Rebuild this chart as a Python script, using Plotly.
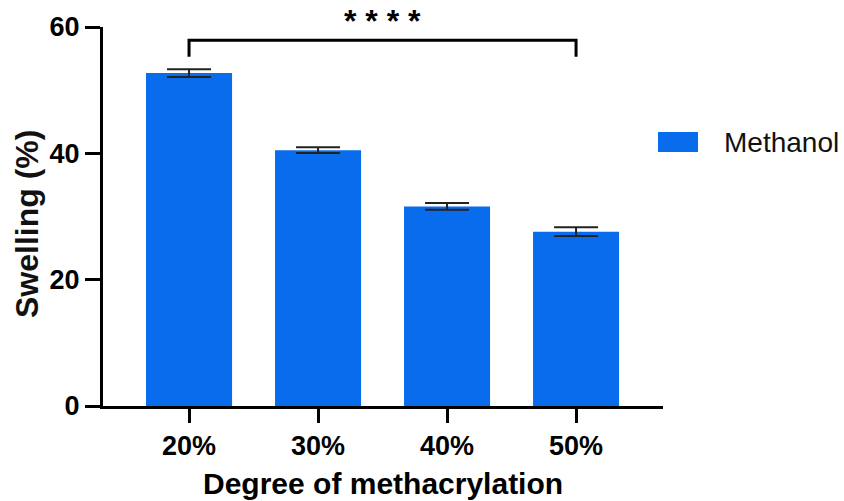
import plotly.graph_objects as go

categories = ["20%", "30%", "40%", "50%"]
swelling = [52.7, 40.5, 31.6, 27.6]
errors = [0.6, 0.45, 0.55, 0.7]
series_name = "Methanol"
y_ticks = [0, 20, 40, 60]

W, H = 844, 501
L, R, T, B = 103, 181, 27, 95
pw, ph = W - L - R, H - T - B

def px_x(p):
    return (p - L) / pw

def px_y(p):
    return (H - B - p) / ph

FONT = "Liberation Sans, Arial, sans-serif"
BLUE = "#086CEC"

fig = go.Figure()
fig.add_trace(go.Bar(
    x=list(range(len(categories))), y=swelling, width=0.667,
    marker=dict(color=BLUE, line=dict(width=0)),
    error_y=dict(type="data", array=errors, visible=True, color="#222",
                 thickness=2, width=22),
    name=series_name, showlegend=False,
))

# significance bracket
fig.add_shape(type="path", xref="x", yref="y",
              path="M 0 55.3 L 0 57.9 L 3 57.9 L 3 55.3",
              line=dict(color="black", width=3))
fig.add_annotation(x=1.5, xref="x", y=px_y(21), yref="paper", text="<b>* * * *</b>",
                   showarrow=False, font=dict(family=FONT, size=32, color="black"),
                   xanchor="center", yanchor="middle")

# legend (manual)
fig.add_shape(type="rect", xref="paper", yref="paper",
              x0=px_x(658), x1=px_x(698), y0=px_y(152), y1=px_y(132),
              fillcolor=BLUE, line=dict(width=0))
fig.add_annotation(x=px_x(722), xref="paper", y=px_y(142), yref="paper", text=series_name,
                   showarrow=False, font=dict(family=FONT, size=28, color="#111"),
                   xanchor="left", yanchor="middle")

# axis titles
fig.add_annotation(x=1.5, xref="x", y=px_y(483), yref="paper",
                   text="<b>Degree of methacrylation</b>", showarrow=False,
                   font=dict(family=FONT, size=30, color="black"),
                   xanchor="center", yanchor="middle")
fig.add_annotation(x=px_x(27), xref="paper", y=px_y(224), yref="paper",
                   text="<b>Swelling (%)</b>", textangle=-90, showarrow=False,
                   font=dict(family=FONT, size=32, color="#111"),
                   xanchor="center", yanchor="middle")

fig.update_layout(
    width=W, height=H,
    margin=dict(l=L, r=R, t=T, b=B, pad=0),
    plot_bgcolor="white", paper_bgcolor="white",
    xaxis=dict(range=[-0.667, 3.674], tickmode="array",
               tickvals=list(range(len(categories))), ticktext=categories,
               showline=True, linecolor="black", linewidth=3,
               ticks="outside", ticklen=14, tickwidth=3, tickcolor="black",
               showgrid=False, zeroline=False,
               tickfont=dict(family=FONT, size=27, color="black", weight="bold")),
    yaxis=dict(range=[0, 60], tickvals=y_ticks,
               showline=True, linecolor="black", linewidth=3,
               ticks="outside", ticklen=15, tickwidth=3, tickcolor="black",
               showgrid=False, zeroline=False,
               tickfont=dict(family=FONT, size=27, color="black", weight="bold")),
)

fig.write_html("out.html")
